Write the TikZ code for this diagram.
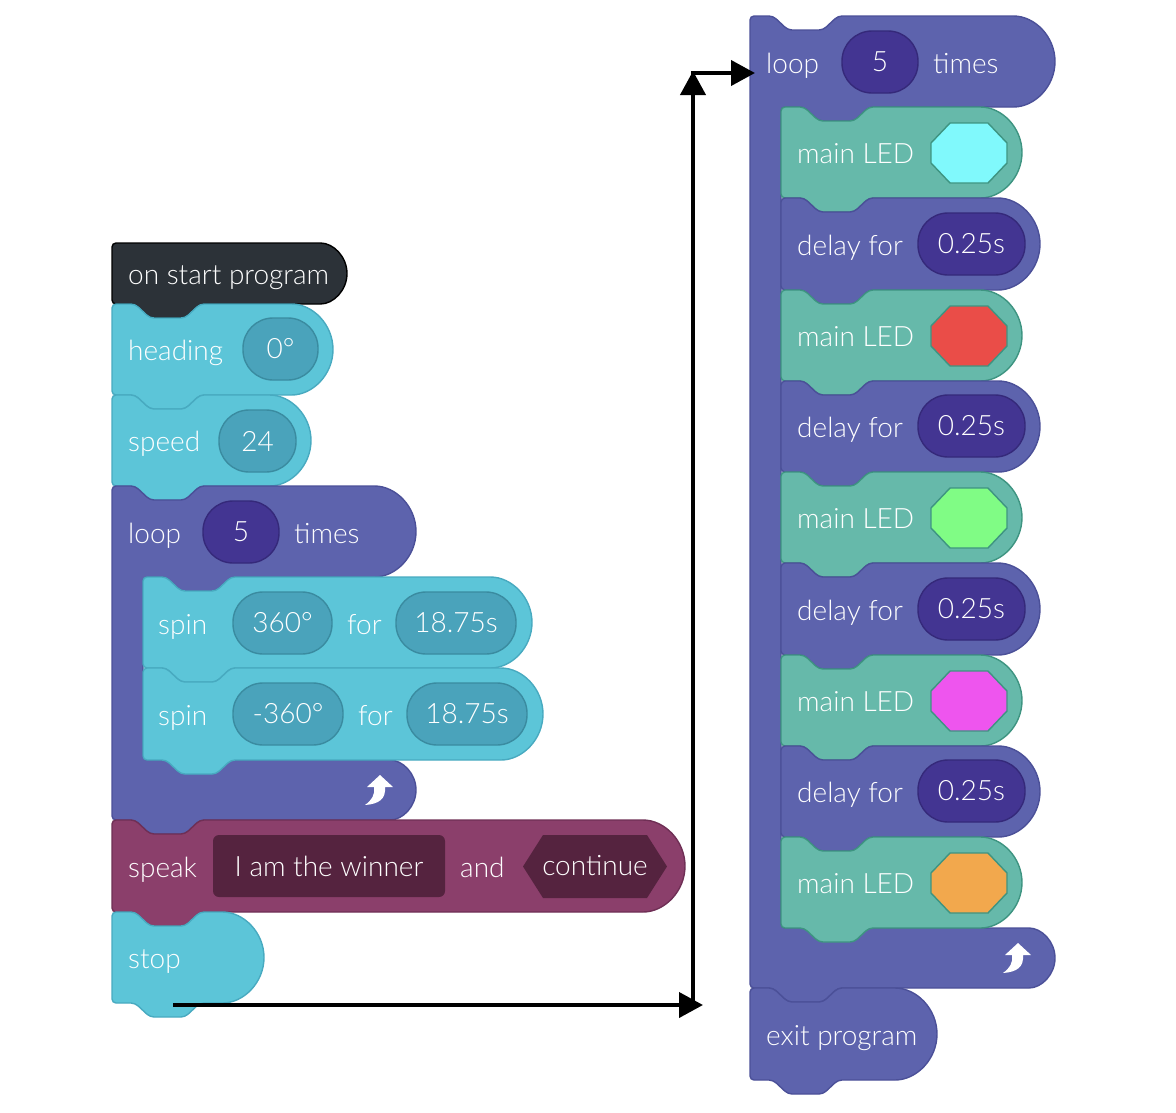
\documentclass[tikz,border=0pt]{standalone}
\usepackage{fontspec}
\setmainfont{Lato}[UprightFont={* Light}]
\usetikzlibrary{arrows.meta}
\definecolor{hatgrey}{HTML}{2C3238}
\definecolor{cyanblk}{HTML}{5CC5D8}
\definecolor{cyanedge}{HTML}{48AAC0}
\definecolor{cyanval}{HTML}{4AA3BB}
\definecolor{cyanvaledge}{HTML}{3A8BA0}
\definecolor{purpblk}{HTML}{5D63AD}
\definecolor{purpedge}{HTML}{4B5098}
\definecolor{purpval}{HTML}{433592}
\definecolor{purpvaledge}{HTML}{35297A}
\definecolor{tealblk}{HTML}{66B9AA}
\definecolor{tealedge}{HTML}{3E9481}
\definecolor{speakblk}{HTML}{8B3F6B}
\definecolor{speakedge}{HTML}{6F2F55}
\definecolor{speakval}{HTML}{55233F}
\definecolor{ledcyan}{HTML}{80F9FC}
\definecolor{ledred}{HTML}{EA4D48}
\definecolor{ledgreen}{HTML}{80FC85}
\definecolor{ledpink}{HTML}{EE55EE}
\definecolor{ledorange}{HTML}{F2A84D}
\tikzset{
    every node/.style={text=white, inner sep=0pt,
    	font=\fontsize{28pt}{32pt}\selectfont}
}
\tikzset{
    lbl/.style={anchor=base west, yshift=-10pt},
    blk/.style={line width=1.4pt, rounded corners=4pt},
    hatblk/.style={blk, fill=hatgrey, draw=black},
    cyanbk/.style={blk, fill=cyanblk, draw=cyanedge},
    purpbk/.style={blk, fill=purpblk, draw=purpedge},
    tealbk/.style={blk, fill=tealblk, draw=tealedge},
    speakbk/.style={blk, fill=speakblk, draw=speakedge},
    pill/.style={draw, rectangle, rounded corners=30pt, minimum height=62pt,
    	line width=1.4pt},
    cyanpill/.style={pill, fill=cyanval, draw=cyanvaledge},
    purppill/.style={pill, fill=purpval, draw=purpvaledge},
    ledoct/.style={draw=tealedge, line width=1.4pt},
    flow/.style={line width=4pt, -{Triangle[length=24pt,width=25pt]}},
    loopmark/.pic={
    	\fill[white] (0,0) -- (13,12) -- (5,12) .. controls (6,24) and (-1,29) .. (-15,30)
    		.. controls (-8,25) and (-5,20) .. (-6,12) -- (-13,12) -- cycle;}
}
\newcommand{\stackblk}[5]{%
  \draw[#5] (#1,#2+#4/2) -- (#1,#2) -- (#1+23,#2) -- (#1+38,#2+14) -- (#1+73,#2+14)
    -- (#1+88,#2) -- (#3-#4/2,#2) arc[start angle=-90,end angle=90,radius=#4/2]
    -- (#1+88,#2+#4) -- (#1+73,#2+#4+14) -- (#1+38,#2+#4+14) -- (#1+23,#2+#4)
    -- (#1,#2+#4) -- cycle;}
\newcommand{\loopblk}[4]{%
  \draw[purpbk] (#1,#2+40) -- (#1,#2) -- (#1+23,#2) -- (#1+38,#2+14) -- (#1+73,#2+14)
    -- (#1+88,#2) -- (#3-45.5,#2) arc[start angle=-90,end angle=90,radius=45.5]
    -- (#1+119,#2+91) -- (#1+104,#2+105) -- (#1+69,#2+105) -- (#1+54,#2+91)
    -- (#1+31,#2+91) -- (#1+31,#4) -- (#3-30,#4) arc[start angle=-90,end angle=90,radius=30]
    -- (#1+88,#4+60) -- (#1+73,#4+74) -- (#1+38,#4+74) -- (#1+23,#4+60)
    -- (#1,#4+60) -- cycle;}
\newcommand{\octa}[3]{%
  \draw[ledoct, fill=#3] (#1-38,#2-10) -- (#1-19,#2-30) -- (#1+19,#2-30) -- (#1+38,#2-10)
    -- (#1+38,#2+10) -- (#1+19,#2+30) -- (#1-19,#2+30) -- (#1-38,#2+10) -- cycle;}

\begin{document}
\begin{tikzpicture}[x=1pt, y=-1pt]
  \useasboundingbox (0,0) rectangle (1176,1112);

  \draw[hatblk] (112,273) -- (112,243) -- (316.5,243) arc[start angle=-90,end angle=90,radius=30.5]
    -- (200,304) -- (185,318) -- (150,318) -- (135,304) -- (112,304) -- cycle;
  \node (hat) [lbl] at (128,274) {on start program};

  \stackblk{112}{304}{333}{91}{cyanbk}
  \node (heading) [lbl] at (128,350) {heading};
  \node (headingval) [cyanpill, minimum width=75pt] at (280.5,349) {0°};

  \stackblk{112}{395}{311}{91}{cyanbk}
  \node (speed) [lbl] at (128,441) {speed};
  \node (speedval) [cyanpill, minimum width=77pt] at (257.5,441) {24};

  \loopblk{112}{486}{416}{760}
  \node (loopA) [lbl] at (128,533) {loop};
  \node (loopAval) [purppill, minimum width=76pt] at (241,532) {5};
  \node (loopAtimes) [lbl] at (294,533) {times};
  \pic at (380,775) {loopmark};

  \stackblk{143}{577}{532}{91}{cyanbk}
  \node (spinA) [lbl] at (158,624) {spin};
  \node (spinAang) [cyanpill, minimum width=99pt] at (282.5,623) {360°};
  \node (spinAfor) [lbl] at (347,624) {for};
  \node (spinAdur) [cyanpill, minimum width=120pt] at (456,623) {18.75s};

  \stackblk{143}{668}{543}{92}{cyanbk}
  \node (spinB) [lbl] at (158,715) {spin};
  \node (spinBang) [cyanpill, minimum width=110pt] at (288,714) {-360°};
  \node (spinBfor) [lbl] at (358,715) {for};
  \node (spinBdur) [cyanpill, minimum width=120pt] at (467,714) {18.75s};

  \stackblk{112}{820}{685}{92}{speakbk}
  \node (speak) [lbl] at (128,867) {speak};
  \node (speakmsg) [fill=speakval, rounded corners=6pt, minimum width=232pt,
  	minimum height=62pt] at (329,866) {I am the winner};
  \node (speakand) [lbl] at (460,867) {and};
  \fill[speakval] (523,866.5) -- (543,835) -- (647,835) -- (667,866.5) -- (647,898)
    -- (543,898) -- cycle;
  \node (speakcont) at (595,866) {continue};

  \stackblk{112}{912}{264}{91}{cyanbk}
  \node (stop) [lbl] at (128,958) {stop};

  \loopblk{750}{16}{1055}{928}
  \node (loopB) [lbl] at (766,63) {loop};
  \node (loopBval) [purppill, minimum width=76pt] at (880,62) {5};
  \node (loopBtimes) [lbl] at (933,63) {times};
  \pic at (1018,943) {loopmark};

  \stackblk{781}{107}{1022}{91}{tealbk}
  \node (ledA) [lbl] at (797,153) {main LED};
  \octa{969}{153}{ledcyan}
  \stackblk{781}{198}{1040}{92}{purpbk}
  \node (delayA) [lbl] at (797,245) {delay for};
  \node (delayAval) [purppill, minimum width=107pt] at (971.5,244) {0.25s};

  \stackblk{781}{290}{1022}{91}{tealbk}
  \node (ledB) [lbl] at (797,336) {main LED};
  \octa{969}{336}{ledred}
  \stackblk{781}{381}{1040}{91}{purpbk}
  \node (delayB) [lbl] at (797,427) {delay for};
  \node (delayBval) [purppill, minimum width=107pt] at (971.5,426) {0.25s};

  \stackblk{781}{472}{1022}{91}{tealbk}
  \node (ledC) [lbl] at (797,518) {main LED};
  \octa{969}{518}{ledgreen}
  \stackblk{781}{563}{1040}{92}{purpbk}
  \node (delayC) [lbl] at (797,610) {delay for};
  \node (delayCval) [purppill, minimum width=107pt] at (971.5,609) {0.25s};

  \stackblk{781}{655}{1022}{91}{tealbk}
  \node (ledD) [lbl] at (797,701) {main LED};
  \octa{969}{701}{ledpink}
  \stackblk{781}{746}{1040}{91}{purpbk}
  \node (delayD) [lbl] at (797,792) {delay for};
  \node (delayDval) [purppill, minimum width=107pt] at (971.5,791) {0.25s};

  \stackblk{781}{837}{1022}{91}{tealbk}
  \node (ledE) [lbl] at (797,883) {main LED};
  \octa{969}{883}{ledorange}

  \stackblk{750}{988}{937}{92}{purpbk}
  \node (exit) [lbl] at (766,1035) {exit program};

  \coordinate (stopout) at (173,1005);
  \coordinate (lowbend) at (693,1005);
  \coordinate (highbend) at (693,73);
  \coordinate (loopin) at (755,73);
  \draw[flow] (stopout) -- ([xshift=10pt]lowbend);
  \draw[flow] ([yshift=-2pt]lowbend) -- ([yshift=2pt]highbend);
  \draw[flow] ([xshift=-2pt]highbend) -- (loopin);
\end{tikzpicture}
\end{document}
